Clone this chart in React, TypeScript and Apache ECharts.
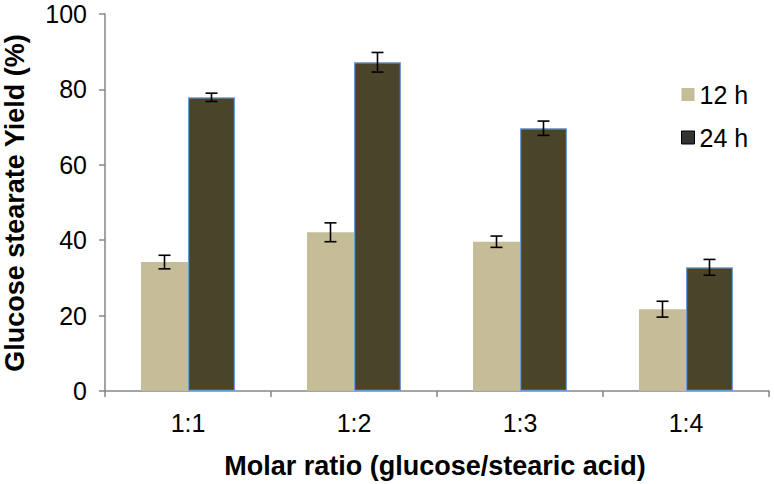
import React, { useEffect, useRef } from "react";
import * as echarts from "echarts";

const categories = ["1:1", "1:2", "1:3", "1:4"];
const yield12h = [34.2, 42.1, 39.6, 21.7];
const err12h = [1.8, 2.5, 1.5, 2.1];
const yield24h = [77.9, 87.2, 69.7, 32.8];
const err24h = [1.1, 2.6, 1.9, 2.1];
const yTicks = [0, 20, 40, 60, 80, 100];

const FONT = "Liberation Sans, Arial, sans-serif";
const BAR_W = 47;

function errorSeries(values: number[], errs: number[], offset: number) {
  return {
    type: "custom",
    silent: true,
    z: 10,
    data: values.map((v, i) => [i, v, errs[i]]),
    renderItem: (params: any, api: any) => {
      const i = api.value(0);
      const v = api.value(1);
      const e = api.value(2);
      const hi = api.coord([i, v + e]);
      const lo = api.coord([i, v - e]);
      const x = hi[0] + offset;
      const cap = 6;
      const style = { stroke: "#000", lineWidth: 1.6 };
      return {
        type: "group",
        children: [
          { type: "line", shape: { x1: x, y1: hi[1], x2: x, y2: lo[1] }, style },
          { type: "line", shape: { x1: x - cap, y1: hi[1], x2: x + cap, y2: hi[1] }, style },
          { type: "line", shape: { x1: x - cap, y1: lo[1], x2: x + cap, y2: lo[1] }, style },
        ],
      };
    },
  };
}

export default function App() {
  const ref = useRef<HTMLDivElement>(null);
  useEffect(() => {
    if (!ref.current) return;
    const chart = echarts.init(ref.current, null, { renderer: "svg" });
    chart.setOption({
      animation: false,
      textStyle: { fontFamily: FONT },
      grid: { left: 105, right: 5, top: 14, bottom: 93, containLabel: false },
      legend: {
        orient: "vertical",
        left: 676,
        top: 77,
        itemWidth: 13,
        itemHeight: 13,
        itemGap: 18,
        textStyle: { fontSize: 25, color: "#000", fontFamily: FONT },
        data: [
          { name: "12 h", icon: "rect", itemStyle: { color: "#C4BD97", borderWidth: 0 } },
          { name: "24 h", icon: "rect", itemStyle: { color: "#333333", borderColor: "#000", borderWidth: 1 } },
        ],
      },
      xAxis: {
        type: "category",
        data: categories,
        axisLine: { lineStyle: { color: "#868686", width: 1.5 } },
        axisTick: { show: true, length: 6, lineStyle: { color: "#868686", width: 1.5 } },
        axisLabel: { fontSize: 25, color: "#000", margin: 19, fontFamily: FONT },
      },
      yAxis: {
        type: "value",
        min: 0,
        max: 100,
        interval: 20,
        splitLine: { show: false },
        axisLine: { show: true, lineStyle: { color: "#868686", width: 1.5 } },
        axisTick: { show: true, length: 6, lineStyle: { color: "#868686", width: 1.5 } },
        axisLabel: {
          fontSize: 25,
          color: "#000",
          margin: 18,
          fontFamily: FONT,
          formatter: (v: number) => (yTicks.includes(v) ? String(v) : ""),
        },
      },
      graphic: [
        {
          type: "text",
          x: 435,
          y: 466,
          style: {
            text: "Molar ratio (glucose/stearic acid)",
            font: `bold 27px ${FONT}`,
            fill: "#000",
            align: "center",
            verticalAlign: "middle",
          },
        },
        {
          type: "text",
          x: 15,
          y: 203,
          rotation: Math.PI / 2,
          style: {
            text: "Glucose stearate Yield (%)",
            font: `bold 27px ${FONT}`,
            fill: "#000",
            align: "center",
            verticalAlign: "middle",
          },
        },
      ],
      series: [
        {
          name: "12 h",
          type: "bar",
          data: yield12h,
          barWidth: BAR_W,
          barGap: "0%",
          itemStyle: { color: "#C4BD97" },
        },
        {
          name: "24 h",
          type: "bar",
          data: yield24h,
          barWidth: BAR_W,
          barGap: "0%",
          itemStyle: { color: "#4A452A", borderColor: "#6E9BD0", borderWidth: 1.2 },
        },
        errorSeries(yield12h, err12h, -BAR_W / 2),
        errorSeries(yield24h, err24h, BAR_W / 2),
      ],
    });
    return () => chart.dispose();
  }, []);
  return <div ref={ref} style={{ width: 774, height: 484, position: "absolute", left: 0, top: 0 }} />;
}
